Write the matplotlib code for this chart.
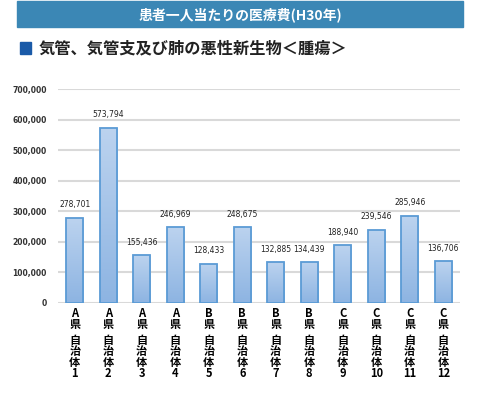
import numpy as np
import matplotlib
matplotlib.use('Agg')
import matplotlib.pyplot as plt
from matplotlib.patches import Rectangle

plt.rcParams['font.family'] = ['Noto Sans CJK JP', 'DejaVu Sans']

prefectures = ['A', 'A', 'A', 'A', 'B', 'B', 'B', 'B', 'C', 'C', 'C', 'C']
municipality_no = ['1', '2', '3', '4', '5', '6', '7', '8', '9', '10', '11', '12']
costs = [278701, 573794, 155436, 246969, 128433, 248675,
         132885, 134439, 188940, 239546, 285946, 136706]
y_ticks = [0, 100000, 200000, 300000, 400000, 500000, 600000, 700000]

header = '患者一人当たりの医療費(H30年)'
title = '気管、気管支及び肺の悪性新生物＜腫瘍＞'

fig = plt.figure(figsize=(4.8, 3.97), dpi=100)

# header band
fig.patches.append(Rectangle((17 / 480, 1 - 27 / 397), 446 / 480, 26 / 397,
                             transform=fig.transFigure, color='#3b87b5', zorder=0))
fig.text(240 / 480, 1 - 15 / 397, header, color='white', fontsize=10,
         fontweight='bold', ha='center', va='center')

# title with blue square
fig.patches.append(Rectangle((20 / 480, 1 - 54 / 397), 11 / 480, 12 / 397,
                             transform=fig.transFigure, color='#1a5aa8'))
fig.text(39 / 480, 1 - 48 / 397, title, color='#222222', fontsize=11.7,
         fontweight='bold', ha='left', va='center')

ax = fig.add_axes([58 / 480, 1 - 303 / 397, 402 / 480, 214 / 397])
x = np.arange(len(costs))
bars = ax.bar(x, costs, width=0.52, facecolor='none', edgecolor='#5b9bd5',
              linewidth=1.3, zorder=3)

# vertical gradient inside each bar
grad = np.linspace(0, 1, 256).reshape(-1, 1)
cmap = matplotlib.colors.LinearSegmentedColormap.from_list('g', ['#8db4e2', '#bcd3ef'])
for b in bars:
    bx, by = b.get_x(), b.get_y()
    im = ax.imshow(grad, extent=[bx, bx + b.get_width(), by, by + b.get_height()],
                   origin='lower', cmap=cmap, aspect='auto', zorder=2)
    im.set_clip_path(b)

for xi, v in zip(x, costs):
    ax.annotate(f'{v:,}', (xi, v), xytext=(0, 6), textcoords='offset points',
                ha='center', va='bottom', fontsize=5.5, color='#222222',
                family='DejaVu Sans')

ax.set_xlim(-0.5, len(costs) - 0.5)
ax.set_ylim(0, 700000)
ax.set_yticks(y_ticks)
ax.set_yticklabels([f'{t:,}' for t in y_ticks], fontsize=5.5, color='#333333',
                   fontweight='bold', family='DejaVu Sans')
ax.tick_params(axis='y', length=0, pad=8)
ax.set_xticks([])
ax.grid(axis='y', color='#d9d9d9', linewidth=1.5, zorder=0)
ax.set_axisbelow(True)
for s in ax.spines.values():
    s.set_visible(False)

for xi, p, n in zip(x, prefectures, municipality_no):
    ax.annotate(f'{p}\n県', (xi, 0), xycoords=('data', 'axes fraction'),
                xytext=(0, -3), textcoords='offset points', ha='center', va='top',
                fontsize=8, fontweight='bold', linespacing=0.8)
    ax.annotate('自\n治\n体\n' + n, (xi, 0), xycoords=('data', 'axes fraction'),
                xytext=(0, -22), textcoords='offset points', ha='center', va='top',
                fontsize=8, fontweight='bold', linespacing=0.8)

fig.savefig('out.png', dpi=100)
